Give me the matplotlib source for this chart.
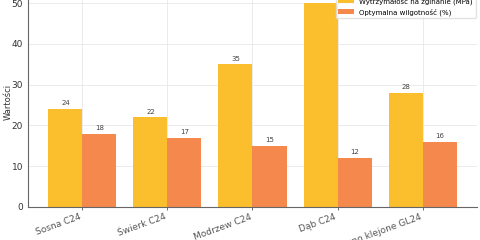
import matplotlib.pyplot as plt
import numpy as np

# Dane do wykresu
gatunki = ["Sosna C24", "Świerk C24", "Modrzew C24", "Dąb C24", "Drewno klejone GL24"]
wytrzymalosc = [24, 22, 35, 50, 28]
wilgotnosc = [18, 17, 15, 12, 16]

kolor_wytrz = "#FBBF2E"
kolor_wilg = "#F4884D"

fig = plt.figure(figsize=(4.8, 2.4), dpi=100)
ax = fig.add_axes([28 / 480, 33 / 240, 449 / 480, 214 / 240])

x = np.arange(len(gatunki))
szer = 0.4
b1 = ax.bar(x - szer / 2, wytrzymalosc, szer, color=kolor_wytrz, label="Wytrzymałość na zginanie (MPa)")
b2 = ax.bar(x + szer / 2, wilgotnosc, szer, color=kolor_wilg, label="Optymalna wilgotność (%)")

for slupki in (b1, b2):
    ax.bar_label(slupki, padding=2, fontsize=5, color="#444444")

ax.set_xticks(x)
ax.set_xticklabels(gatunki, rotation=20, ha="right", fontsize=6.5, color="#333333")
ax.set_ylim(0, 52.5)
ax.set_yticks([0, 10, 20, 30, 40, 50])
ax.tick_params(axis="y", labelsize=6.5, colors="#333333", length=0)
ax.tick_params(axis="x", length=2, width=0.6, colors="#555555", pad=2)
ax.set_ylabel("Wartości", fontsize=6, color="#333333")
ax.yaxis.set_label_coords(-0.034, 0.49)

ax.grid(True, color="#e8e8e8", linewidth=0.6)
ax.set_axisbelow(True)
for s in ("top", "right"):
    ax.spines[s].set_visible(False)
for s in ("left", "bottom"):
    ax.spines[s].set_color("#666666")
    ax.spines[s].set_linewidth(0.8)

ax.legend(loc="upper right", fontsize=5, frameon=True, edgecolor="#dddddd",
          handlelength=2.2, handleheight=0.8, borderaxespad=0.2)

fig.savefig("out.png", dpi=100)
